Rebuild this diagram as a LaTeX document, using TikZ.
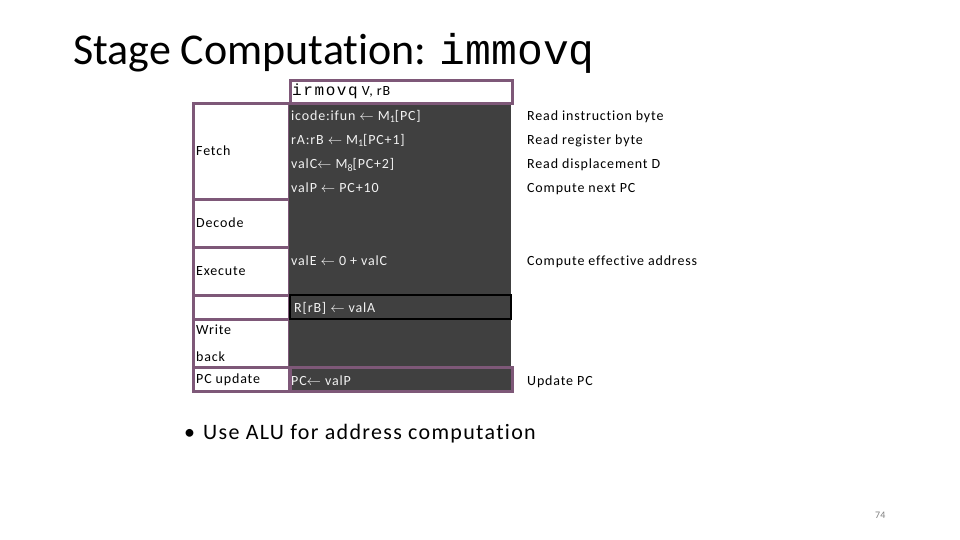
\documentclass[tikz,border=0pt]{standalone}
\usepackage{fontspec}
\setmainfont{Carlito}[LetterSpace=6, RawFeature={-liga;-dlig;-calt;-clig}]
\setmonofont{Liberation Mono}
\newfontfamily\titlefont{Carlito}[RawFeature={-liga;-dlig;-calt;-clig}]
\newfontfamily\widemono{Liberation Mono}[LetterSpace=10]
\usepackage{tikz}
\usetikzlibrary{positioning}
\definecolor{stageborder}{RGB}{126,88,120}
\definecolor{cellgray}{RGB}{64,64,64}
\definecolor{celltext}{RGB}{242,242,242}
\newcommand{\lowidx}[1]{\raisebox{-2pt}{\fontsize{10}{10}\selectfont #1}}
\newcommand{\getsarrow}{$\leftarrow$}

\begin{document}
\begin{tikzpicture}[x=1pt,y=-1pt]
  \tikzstyle{stage}=[draw=stageborder, line width=2.6pt, fill=white,
    anchor=north west, inner sep=0pt]
  \tikzstyle{body}=[rectangle, fill=cellgray, anchor=north west, inner sep=0pt]
  \tikzstyle{label}=[anchor=base west, inner sep=0pt,
    font=\fontsize{14}{16}\selectfont]
  \tikzstyle{op}=[label, text=celltext]
  \useasboundingbox (0,0) rectangle (960,540);

  % title
  \node[anchor=base west, inner sep=0pt, font=\titlefont\fontsize{44}{48}\selectfont]
    (title) at (73,65) {Stage Computation: \fontsize{43}{48}\selectfont\texttt{immovq}};

  % stage cells on the left
  \node[stage, minimum width=96pt, minimum height=96pt] (fetch) at (192,102) {};
  \node[stage, minimum width=96pt, minimum height=48pt] (decode) at (192,198) {};
  \node[stage, minimum width=96pt, minimum height=48pt] (execute) at (192,246) {};
  \node[stage, minimum width=96pt, minimum height=24pt] (blank) at (192,294) {};
  \node[stage, minimum width=96pt, minimum height=48pt] (writeback) at (192,318) {};
  \node[stage, minimum width=96pt, minimum height=24pt] (pcupdate) at (192,366) {};

  \node[label] (L_fetch) at (196,156) {Fetch};
  \node[label] (L_decode) at (196,227) {Decode};
  \node[label] (L_execute) at (196,275) {Execute};
  \node[label] (L_write) at (196,334) {Write};
  \node[label] (L_back) at (196,361) {back};
  \node[label] (L_pc) at (196,383) {PC update};

  % computation column
  \node[body, minimum width=222pt, minimum height=290pt] (ops) at (289,101) {};
  \node[stage, minimum width=222pt, minimum height=23pt] (instr) at (289,79) {};
  \node[body, draw=black, line width=2.4pt, minimum width=221pt, minimum height=24pt]
    (regwrite) at (289,294) {};
  \node[stage, fill=cellgray, minimum width=222pt, minimum height=24pt] (pcbox) at (289,366) {};

  \node[label] (T_instr) at (292,96) {{\widemono\fontsize{16}{16}\selectfont irmovq} V, rB};
  \node[op] (O_1) at (291,121) {icode:ifun \getsarrow{} M\lowidx{1}[PC]};
  \node[op] (O_2) at (291,145) {rA:rB \getsarrow{} M\lowidx{1}[PC+1]};
  \node[op] (O_3) at (291,169) {valC\getsarrow{} M\lowidx{8}[PC+2]};
  \node[op] (O_4) at (291,193) {valP \getsarrow{} PC+10};
  \node[op] (O_5) at (291,265) {valE \getsarrow{} 0 + valC};
  \node[op] (O_6) at (294,312) {R[rB] \getsarrow{} valA};
  \node[op] (O_7) at (291,385) {PC\getsarrow{} valP};

  % comments on the right
  \node[label] (C_1) at (527,121) {Read instruction byte};
  \node[label] (C_2) at (527,145) {Read register byte};
  \node[label] (C_3) at (527,169) {Read displacement D};
  \node[label] (C_4) at (527,193) {Compute next PC};
  \node[label] (C_5) at (527,265) {Compute effective address};
  \node[label] (C_6) at (527,385) {Update PC};

  % bullet and page number
  \node[anchor=base west, inner sep=0pt, font=\fontsize{22}{24}\selectfont]
    (bullet) at (184,439) {\textbullet\hspace{8pt}Use ALU for address computation};
  \node[anchor=base west, inner sep=0pt, text=gray, font=\titlefont\fontsize{10}{12}\selectfont]
    (page) at (875,518) {74};
\end{tikzpicture}
\end{document}
